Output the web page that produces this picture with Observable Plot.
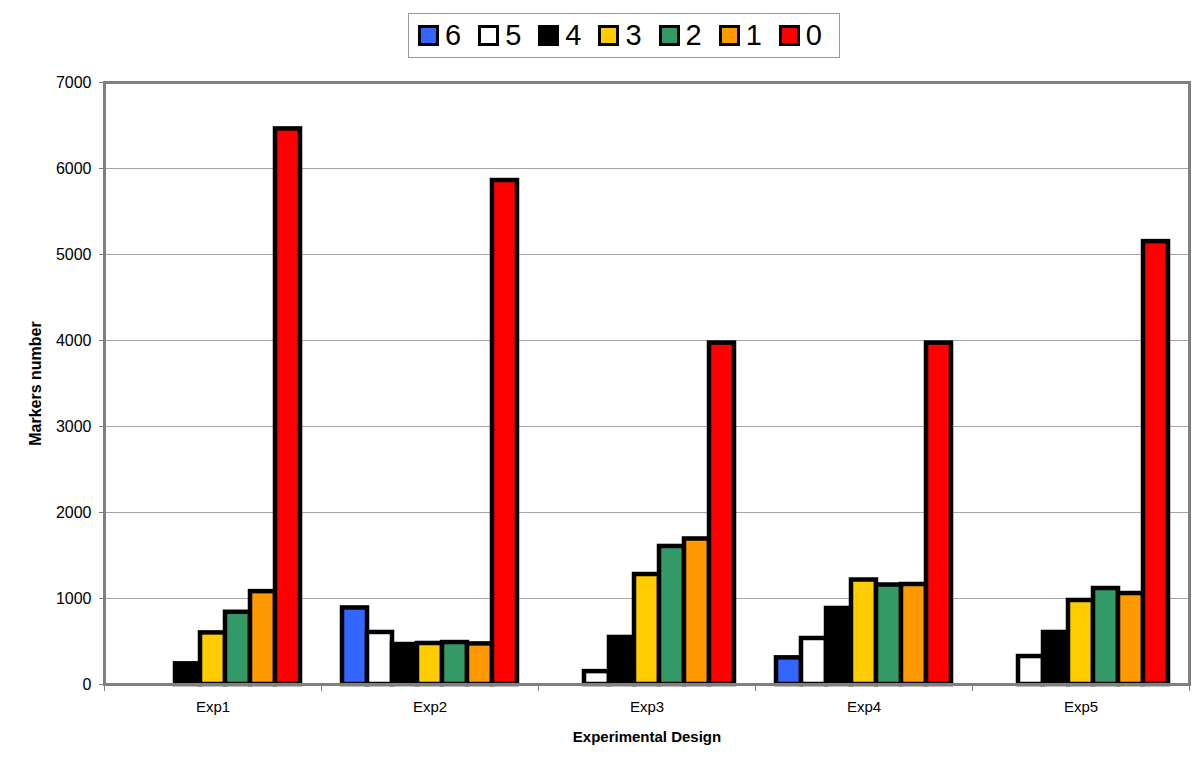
<!DOCTYPE html>
<html>
<head>
<meta charset="utf-8">
<script src="https://cdn.jsdelivr.net/npm/d3@7"></script>
<script src="https://cdn.jsdelivr.net/npm/@observablehq/plot@0.6"></script>
<style>
  html, body { margin: 0; padding: 0; background: #fff; }
  #wrap { position: relative; width: 1200px; height: 777px; font-family: "Liberation Sans", Arial, sans-serif; }
  #legend {
    position: absolute; left: 408px; top: 13px; width: 432px; height: 45px;
    border: 1px solid #9a9a9a;
    display: flex; align-items: center; padding-left: 9px; box-sizing: border-box;
  }
  .item { display: flex; align-items: center; width: 61px; }
  .sw { width: 21px; height: 21px; border: 3px solid #000; box-sizing: border-box; margin-right: 6px; }
  .lab { font-size: 29px; line-height: 1; color: #000; }
  #chart svg [aria-label="fx-axis label"] text, #chart svg [aria-label="y-axis label"] text { font-weight: bold; }
</style>
</head>
<body>
<div id="wrap">
  <div id="chart"></div>
  <div id="legend"></div>
</div>
<script>
const groups = ["Exp1", "Exp2", "Exp3", "Exp4", "Exp5"];
const series = ["6", "5", "4", "3", "2", "1", "0"];
const colors = ["#3366FF", "#FFFFFF", "#000000", "#FFCC00", "#339966", "#FF9900", "#FF0000"];
// values per series, in order of groups Exp1..Exp5
const s6 = [0, 890, 0, 310, 0];
const s5 = [0, 605, 150, 535, 325];
const s4 = [240, 465, 547, 884, 605];
const s3 = [600, 477, 1279, 1215, 977];
const s2 = [840, 488, 1605, 1157, 1116];
const s1 = [1080, 472, 1692, 1163, 1058];
const s0 = [6460, 5860, 3970, 3970, 5150];
const yTicks = [0, 1000, 2000, 3000, 4000, 5000, 6000, 7000];

const seriesValues = [s6, s5, s4, s3, s2, s1, s0];
const data = [];
groups.forEach((g, gi) => {
  series.forEach((s, si) => {
    data.push({group: g, series: s, value: seriesValues[si][gi]});
  });
});

const chart = Plot.plot({
  width: 1200,
  height: 777,
  marginLeft: 103,
  marginRight: 10,
  marginTop: 82,
  marginBottom: 93,
  style: {fontFamily: "'Liberation Sans', Arial, sans-serif", fontSize: "16px", color: "#000", background: "#fff"},
  fx: {domain: groups, padding: 0},
  x: {domain: series, paddingInner: 0, paddingOuter: 0.75},
  y: {domain: [0, 7000]},
  color: {domain: series, range: colors},
  marks: [
    Plot.gridY(yTicks, {stroke: "#a6a6a6", strokeOpacity: 1, strokeWidth: 1}),
    Plot.barY(data.filter(d => d.value > 0), {
      fx: "group", x: "series", y: "value", fill: "series",
      stroke: "#000", strokeWidth: 4.5
    }),
    Plot.frame({stroke: "#808080", strokeWidth: 3, anchor: "bottom"}),
    Plot.frame({stroke: "#808080", strokeWidth: 1, anchor: "left", insetTop: 602, insetBottom: -6}),
    Plot.frame({stroke: "#808080", strokeWidth: 1, anchor: "right", insetTop: 602, insetBottom: -6}),
    Plot.frame({stroke: "#808080", strokeWidth: 3, facet: "super"}),
    Plot.axisY(yTicks, {
      tickSize: 5, tickPadding: 8, stroke: "#808080", fontSize: 16,
      tickFormat: d => String(d),
      label: "Markers number", labelAnchor: "center", labelArrow: "none", labelOffset: 75
    }),
    Plot.axisFx({
      anchor: "bottom", tickSize: 0, tickPadding: 17, fontSize: 15,
      label: "Experimental Design", labelAnchor: "center", labelArrow: "none", labelOffset: 57
    }),
    Plot.axisX({ticks: [], label: null})
  ]
});
document.getElementById("chart").appendChild(chart);

const legend = document.getElementById("legend");
series.forEach((s, i) => {
  const item = document.createElement("div");
  item.className = "item";
  const sw = document.createElement("div");
  sw.className = "sw";
  sw.style.background = colors[i];
  const lab = document.createElement("span");
  lab.className = "lab";
  lab.textContent = s;
  item.appendChild(sw);
  item.appendChild(lab);
  legend.appendChild(item);
});
</script>
</body>
</html>
